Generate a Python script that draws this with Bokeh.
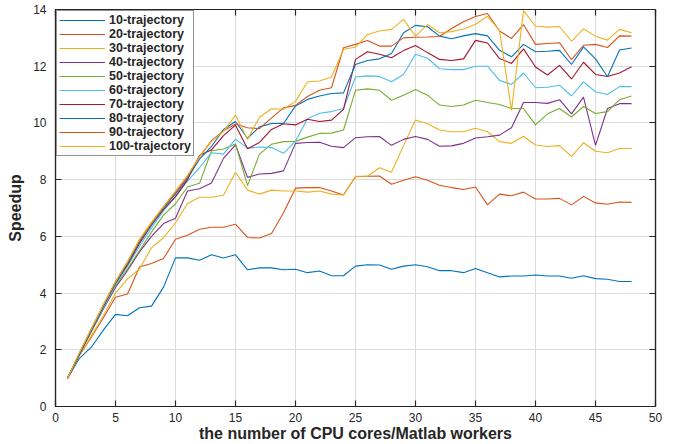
from bokeh.plotting import figure
from bokeh.models import Range1d, LinearAxis, FixedTicker, CustomJSTickFormatter
from bokeh.embed import file_html
from bokeh.resources import INLINE

workers = list(range(1, 49))

s10 = [1, 1.7, 2.1, 2.7, 3.25, 3.2, 3.48, 3.54, 4.21, 5.24, 5.24, 5.16, 5.35, 5.24, 5.35,
       4.82, 4.89, 4.89, 4.82, 4.84, 4.72, 4.78, 4.61, 4.61, 4.95, 5.0, 4.99, 4.84, 4.95, 5.0,
       4.93, 4.79, 4.79, 4.72, 4.87, 4.72, 4.57, 4.6, 4.6, 4.64, 4.6, 4.6, 4.52, 4.61, 4.51,
       4.49, 4.41, 4.41]
s20 = [1, 1.8, 2.45, 3.14, 3.85, 3.97, 4.92, 5.04, 5.22, 5.9, 6.04, 6.25, 6.32, 6.32, 6.43,
       5.96, 5.94, 6.1, 6.83, 7.7, 7.72, 7.72, 7.6, 7.46, 8.1, 8.12, 8.13, 7.84, 7.98, 8.1,
       7.98, 7.8, 7.72, 7.65, 7.74, 7.11, 7.49, 7.43, 7.56, 7.32, 7.32, 7.34, 7.11, 7.41, 7.18,
       7.13, 7.21, 7.2]
s30 = [1, 1.8, 2.5, 3.2, 4.0, 4.5, 4.85, 5.6, 5.95, 6.48, 7.16, 7.38, 7.38, 7.45, 8.26,
       7.63, 7.49, 7.63, 7.6, 7.6, 7.56, 7.6, 7.49, 7.46, 8.12, 8.12, 8.42, 8.26, 9.2, 10.1,
       9.97, 9.75, 9.69, 9.69, 9.81, 9.69, 9.34, 9.28, 9.53, 9.22, 9.17, 9.2, 8.82, 9.3, 9.0,
       8.95, 9.1, 9.1]
s40 = [1, 1.85, 2.65, 3.45, 4.2, 4.8, 5.45, 6.0, 6.45, 6.64, 7.6, 7.68, 7.88, 8.75, 9.23,
       8.08, 8.2, 8.22, 8.31, 9.28, 9.31, 9.32, 9.18, 9.13, 9.48, 9.51, 9.52, 9.21, 9.42, 9.52,
       9.42, 9.18, 9.19, 9.28, 9.47, 9.51, 9.57, 9.83, 10.72, 10.72, 10.69, 10.82, 10.32, 10.91, 9.21,
       10.51, 10.68, 10.68]
s50 = [1, 1.85, 2.65, 3.5, 4.25, 4.85, 5.5, 6.15, 6.75, 7.15, 7.74, 7.87, 9.02, 9.08, 9.26,
       7.79, 8.9, 9.25, 9.34, 9.35, 9.5, 9.63, 9.64, 9.75, 11.15, 11.2, 11.15, 10.8, 10.98, 11.18,
       10.98, 10.63, 10.58, 10.63, 10.8, 10.72, 10.65, 10.51, 10.51, 9.93, 10.32, 10.51, 10.21, 10.58, 10.33,
       10.4, 10.82, 10.95]
s60 = [1, 1.85, 2.7, 3.5, 4.3, 4.95, 5.65, 6.3, 6.9, 7.4, 7.95, 8.42, 8.95, 8.9, 9.43,
       9.11, 9.15, 9.13, 8.93, 9.36, 10.15, 10.34, 10.4, 10.51, 11.62, 11.66, 11.64, 11.45, 11.71, 12.42,
       12.28, 11.91, 11.88, 11.88, 12.0, 12.0, 11.5, 11.36, 11.76, 11.24, 11.26, 11.33, 10.95, 11.45, 11.1,
       11.0, 11.28, 11.28]
s70 = [1, 1.85, 2.7, 3.55, 4.35, 5.0, 5.75, 6.4, 6.95, 7.4, 8.0, 8.85, 9.05, 9.55, 9.92,
       9.09, 9.31, 9.77, 9.97, 9.93, 10.13, 10.05, 10.1, 10.48, 12.24, 12.51, 12.42, 12.3, 12.55, 12.73,
       12.48, 12.24, 12.2, 12.26, 12.91, 12.82, 12.27, 12.1, 12.61, 11.97, 11.69, 12.03, 11.55, 12.14, 11.71,
       11.64, 11.76, 11.98]
s80 = [1, 1.85, 2.7, 3.55, 4.35, 5.05, 5.8, 6.4, 7.0, 7.5, 8.05, 8.72, 9.17, 9.77, 10.05,
       9.46, 9.86, 9.98, 9.98, 10.6, 10.83, 10.95, 11.04, 11.06, 12.06, 12.2, 12.26, 12.45, 13.18, 13.44,
       13.39, 13.06, 12.97, 13.07, 13.15, 13.07, 12.56, 12.33, 12.77, 12.51, 12.53, 12.56, 12.06, 12.68, 12.26,
       11.63, 12.57, 12.64]
s90 = [1, 1.9, 2.75, 3.6, 4.4, 5.1, 5.85, 6.45, 7.05, 7.55, 8.1, 8.82, 9.37, 9.72, 9.96,
       9.83, 9.8, 10.18, 10.53, 10.62, 10.93, 11.15, 11.24, 12.65, 12.77, 12.91, 12.71, 12.71, 13.0, 13.02,
       13.03, 13.05, 13.33, 13.57, 13.75, 13.86, 13.24, 12.98, 13.47, 12.77, 12.8, 12.83, 12.23, 12.74, 12.77,
       12.66, 13.07, 13.06]
s100 = [1, 1.9, 2.75, 3.6, 4.4, 5.1, 5.9, 6.5, 7.05, 7.6, 8.15, 8.8, 9.35, 9.7, 10.28,
        9.42, 10.2, 10.5, 10.48, 10.76, 11.45, 11.48, 11.62, 12.6, 12.67, 13.12, 13.24, 13.3, 13.65, 13.06,
        13.47, 13.18, 13.22, 13.31, 13.48, 13.76, 13.26, 10.44, 13.96, 13.41, 13.38, 13.4, 12.88, 13.32, 13.06,
        12.92, 13.3, 13.18]

labels = ["10-trajectory", "20-trajectory", "30-trajectory", "40-trajectory", "50-trajectory",
          "60-trajectory", "70-trajectory", "80-trajectory", "90-trajectory", "100-trajectory"]
series = [s10, s20, s30, s40, s50, s60, s70, s80, s90, s100]
colors = ["#0072BD", "#D95319", "#EDB120", "#7E2F8E", "#77AC30", "#4DBEEE", "#A2142F",
          "#0072BD", "#D95319", "#EDB120"]

x_ticks = [0, 5, 10, 15, 20, 25, 30, 35, 40, 45, 50]
y_ticks = [0, 2, 4, 6, 8, 10, 12, 14]

FONT = "Liberation Sans"
DARK = "#262626"

p = figure(width=691, height=444, output_backend="svg", toolbar_location=None,
           x_range=Range1d(0, 50), y_range=Range1d(0, 14),
           min_border_left=55, min_border_right=36, min_border_top=9, min_border_bottom=38)
p.background_fill_color = "white"
p.outline_line_color = DARK
p.outline_line_width = 1.2

for s, lab, c in zip(series, labels, colors):
    p.line(workers, s, line_color=c, line_width=1.1, legend_label=lab)

bottom = p.below[0]
left = p.left[0]
bottom.ticker = FixedTicker(ticks=x_ticks)
left.ticker = FixedTicker(ticks=y_ticks)

blank = CustomJSTickFormatter(code="return '';")
top = LinearAxis(ticker=FixedTicker(ticks=x_ticks), formatter=blank)
right = LinearAxis(ticker=FixedTicker(ticks=y_ticks), formatter=blank)
p.add_layout(top, "above")
p.add_layout(right, "right")

for ax in [bottom, left, top, right]:
    ax.axis_line_color = DARK
    ax.axis_line_width = 1.2
    ax.major_tick_line_color = DARK
    ax.major_tick_line_width = 1.2
    ax.major_tick_in = 6
    ax.major_tick_out = 0
    ax.minor_tick_line_color = None
    ax.major_label_text_color = DARK
    ax.major_label_text_font = FONT

for ax in [bottom, left]:
    ax.major_label_text_font_size = "12px"
    ax.axis_label_text_font = FONT
    ax.axis_label_text_font_size = "16px"
    ax.axis_label_text_font_style = "bold"
    ax.axis_label_text_color = DARK

top.major_label_standoff = 0
right.major_label_standoff = 0

bottom.axis_label = "the number of CPU cores/Matlab workers"
bottom.major_label_standoff = 6
bottom.axis_label_standoff = 0
left.axis_label = "Speedup"
left.major_label_standoff = 9
left.axis_label_standoff = 6

p.xgrid.grid_line_color = "#dcdcdc"
p.ygrid.grid_line_color = "#dcdcdc"
p.xgrid.grid_line_width = 1
p.ygrid.grid_line_width = 1

lg = p.legend[0]
lg.location = "top_left"
lg.margin = 1
lg.padding = 2
lg.spacing = 0
lg.label_height = 14
lg.glyph_height = 14
lg.glyph_width = 46
lg.label_standoff = 4
lg.label_text_font = FONT
lg.label_text_font_size = "12.5px"
lg.label_text_font_style = "bold"
lg.label_text_color = DARK
lg.border_line_color = DARK
lg.border_line_width = 1
lg.background_fill_color = "white"
lg.background_fill_alpha = 1

open("out.html", "w").write(file_html(p, INLINE))
